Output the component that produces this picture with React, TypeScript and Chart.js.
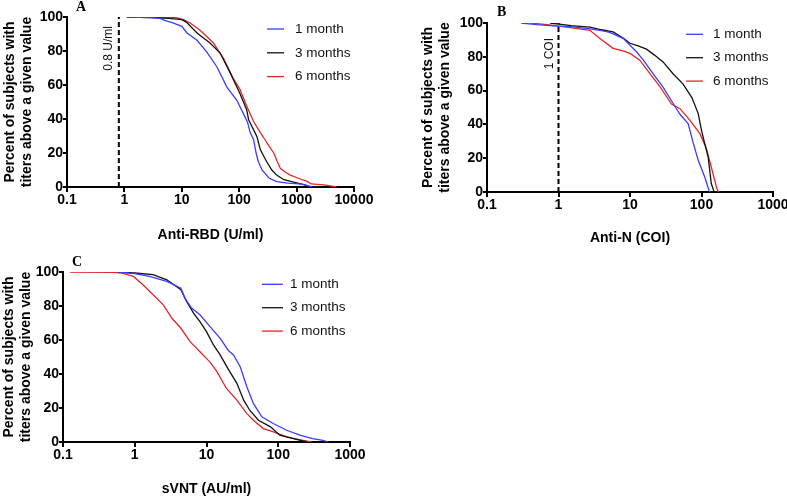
import React, { useEffect, useRef } from "react";
import { Chart, registerables } from "chart.js";

Chart.register(...registerables);

const SANS = '"Liberation Sans", Arial, Helvetica, sans-serif';
const SERIF = '"Liberation Serif", "Times New Roman", serif';

// ---------- shared ----------
const SERIES_LABELS = ["1 month", "3 months", "6 months"];
const SERIES_COLORS = ["#3c3cff", "#111111", "#e3262a"];
const Y_TITLE = ["Percent of subjects with", "titers above a given value"];
const Y_MIN = 0;
const Y_MAX = 100;
const Y_STEP = 20;

// ---------- panel A : Anti-RBD ----------
const A_X_TICKS = [0.1, 1, 10, 100, 1000, 10000];
const A_X_TICK_LABELS = ["0.1", "1", "10", "100", "1000", "10000"];
const A_X_TITLE = "Anti-RBD (U/ml)";
const A_CUTOFF = 0.8;
const A_CUTOFF_LABEL = "0.8 U/ml";
const A_1M = [
  [1.1, 100], [2.8, 99.6], [4.2, 99.2], [5, 98], [7, 96.5], [10, 94.5], [12.3, 90.6],
  [18.4, 86.3], [27.3, 79.4], [41, 70.6], [61, 58.8], [91, 51], [119, 43], [140, 38],
  [155, 32], [178, 28], [197, 20], [215, 15], [250, 10], [330, 5.3], [450, 3.2],
  [700, 2.3], [1100, 1.8], [1400, 1.2], [1900, 0],
];
const A_3M = [
  [1.1, 100], [3, 99.6], [6, 99.2], [10, 98.4], [12, 97], [18.4, 90.6], [31, 84.7],
  [46.6, 78.8], [70, 67], [103, 55], [135, 45.5], [146, 39.6], [170, 35], [203, 29.8],
  [233, 22], [260, 19], [300, 15], [370, 10], [450, 7], [600, 4.3], [890, 2.8],
  [1400, 1.3], [1600, 0],
];
const A_6M = [
  [1.1, 100], [3, 99.8], [8, 99.6], [10.7, 98.4], [14, 96.5], [21, 92], [35.6, 84.7],
  [54.4, 75.1], [80, 63.4], [103, 57.5], [135, 47.6], [178, 38.5], [233, 32],
  [282, 27.8], [330, 24], [400, 20], [460, 15], [520, 11], [620, 9], [780, 7],
  [1100, 5], [1530, 3.3], [1800, 1.8], [3000, 1.2], [5000, 0],
];

// ---------- panel B : Anti-N ----------
const B_X_TICKS = [0.1, 1, 10, 100, 1000];
const B_X_TICK_LABELS = ["0.1", "1", "10", "100", "1000"];
const B_X_TITLE = "Anti-N (COI)";
const B_CUTOFF = 1;
const B_CUTOFF_LABEL = "1 COI";
const B_1M = [
  [0.3, 100], [0.5, 99], [0.94, 98.2], [1.5, 97.8], [2.75, 96.5], [4, 95.5], [5.2, 94.5],
  [8.1, 90.8], [12.3, 83], [15.4, 78], [21, 70], [29, 62], [38, 54], [50, 46],
  [65, 40.5], [77, 28.6], [90, 18.8], [111, 8.9], [127, 1], [131, 0],
];
const B_3M = [
  [0.76, 100], [1.5, 98.5], [2.75, 97.6], [4, 96], [5.8, 94.7], [8.1, 91], [10, 88],
  [13, 86.5], [17, 84.5], [22, 81], [29, 77], [40, 70], [55, 64], [73, 56], [90, 46.4],
  [100, 36.5], [111, 28.6], [124, 20.7], [137, 5], [150, 0],
];
const B_6M = [
  [0.4, 100], [0.7, 99], [1.3, 97.6], [2.75, 95.7], [3.8, 90.8], [5.8, 85], [8, 83.5],
  [10, 82], [13.7, 78], [19, 70], [26.5, 62], [38, 52], [50, 49.3], [69, 42.4],
  [95, 34.5], [117, 25.7], [137, 14.8], [164, 2], [173, 0],
];

// ---------- panel C : sVNT ----------
const C_X_TICKS = [0.1, 1, 10, 100, 1000];
const C_X_TICK_LABELS = ["0.1", "1", "10", "100", "1000"];
const C_X_TITLE = "sVNT (AU/ml)";
const C_1M = [
  [0.6, 100], [1, 99], [1.6, 97.4], [2.8, 94.5], [4.4, 90.5], [5, 84.6], [6.2, 78.8],
  [8.1, 74.8], [11.2, 67.9], [15.5, 61], [17.2, 58.1], [20, 54], [23.8, 51.2],
  [29.5, 44.3], [36.5, 32.5], [45, 22.7], [59, 14.8], [85, 10.9], [131, 6.9],
  [200, 4], [300, 2], [420, 1], [500, 0],
];
const C_3M = [
  [0.59, 100], [1, 99.4], [1.8, 98.4], [2.8, 95.4], [4.4, 89.6], [5.3, 82.6],
  [6.6, 75.8], [8.1, 70.8], [10, 64.9], [12.5, 57.1], [15.5, 51.2], [20, 43],
  [26.5, 34.5], [33, 24.6], [40, 18.7], [53, 12.8], [78, 8.9], [105, 4], [162, 2],
  [250, 0],
];
const C_6M = [
  [0.125, 100], [0.5, 99.8], [0.66, 99.4], [0.96, 97.4], [1.3, 92.5], [1.8, 86.6],
  [2.5, 80.7], [3.3, 72.8], [4.4, 66.9], [5.9, 59], [8.1, 53.1], [11.2, 47],
  [13.9, 41.5], [19, 31.5], [26.5, 24.6], [36.5, 16.7], [45, 12.8], [62, 7.9],
  [86, 5.9], [131, 3], [220, 1], [290, 0],
];

type Pts = number[][];
interface PanelCfg {
  letter: string;
  box: { left: number; top: number; width: number; height: number };
  pad: { top: number; right: number; left: number; bottom: number };
  yAxisW: number;
  xAxisH: number;
  xTitlePad: number;
  yTitlePad: number;
  xTicks: number[];
  xTickLabels: string[];
  xTitle: string;
  series: Pts[];
  cutoff?: number;
  cutoffLabel?: string;
  cutoffLabelDx?: number;
  cutoffLabelDy?: number;
  legend: { x1: number; x2: number; tx: number; y0: number; dy: number };
  letterPos: { x: number; y: number };
}

const PANELS: PanelCfg[] = [
  {
    letter: "A",
    box: { left: 0, top: 0, width: 400, height: 250 },
    pad: { top: 17, right: 46, left: 0, bottom: 0 },
    yAxisW: 67,
    xAxisH: 63,
    xTitlePad: 6.5,
    yTitlePad: 1.5,
    xTicks: A_X_TICKS,
    xTickLabels: A_X_TICK_LABELS,
    xTitle: A_X_TITLE,
    series: [A_1M, A_3M, A_6M],
    cutoff: A_CUTOFF,
    cutoffLabel: A_CUTOFF_LABEL,
    cutoffLabelDx: -10,
    cutoffLabelDy: 9,
    legend: { x1: 267, x2: 284, tx: 295, y0: 29, dy: 23.8 },
    letterPos: { x: 76, y: 10.5 },
  },
  {
    letter: "B",
    box: { left: 400, top: 0, width: 387, height: 250 },
    pad: { top: 23, right: 14, left: 0, bottom: 0 },
    yAxisW: 87,
    xAxisH: 58,
    xTitlePad: 3.6,
    yTitlePad: 20,
    xTicks: B_X_TICKS,
    xTickLabels: B_X_TICK_LABELS,
    xTitle: B_X_TITLE,
    series: [B_1M, B_3M, B_6M],
    cutoff: B_CUTOFF,
    cutoffLabel: B_CUTOFF_LABEL,
    cutoffLabelDx: -8.5,
    cutoffLabelDy: 15,
    legend: { x1: 286, x2: 303, tx: 313, y0: 34.3, dy: 23.4 },
    letterPos: { x: 97, y: 16 },
  },
  {
    letter: "C",
    box: { left: 0, top: 250, width: 400, height: 246 },
    pad: { top: 22, right: 50, left: 0, bottom: 0 },
    yAxisW: 63,
    xAxisH: 54,
    xTitlePad: -1.4,
    yTitlePad: 0.6,
    xTicks: C_X_TICKS,
    xTickLabels: C_X_TICK_LABELS,
    xTitle: C_X_TITLE,
    series: [C_1M, C_3M, C_6M],
    legend: { x1: 262, x2: 283, tx: 290, y0: 34.3, dy: 23.4 },
    letterPos: { x: 72, y: 16 },
  },
];

function Panel({ cfg }: { cfg: PanelCfg }) {
  const ref = useRef<HTMLCanvasElement | null>(null);

  useEffect(() => {
    const canvas = ref.current;
    if (!canvas) return;

    const datasets: any[] = cfg.series.map((pts, i) => ({
      label: SERIES_LABELS[i],
      data: pts.map(([x, y]) => ({ x, y })),
      borderColor: SERIES_COLORS[i],
      backgroundColor: SERIES_COLORS[i],
      borderWidth: 1.3,
      pointRadius: 0,
      tension: 0,
      fill: false,
    }));
    if (cfg.cutoff !== undefined) {
      datasets.push({
        label: "__cutoff",
        data: [
          { x: cfg.cutoff, y: Y_MIN },
          { x: cfg.cutoff, y: Y_MAX },
        ],
        borderColor: "#000",
        borderWidth: 2,
        borderDash: [5, 3],
        pointRadius: 0,
        fill: false,
      });
    }

    const tickFont = { family: SANS, size: 14, weight: "bold" as const };

    const overlay = {
      id: "overlay-" + cfg.letter,
      afterDraw(chart: any) {
        const ctx = chart.ctx;
        const area = chart.chartArea;
        ctx.save();
        // legend
        ctx.font = `13.5px ${SANS}`;
        ctx.textBaseline = "middle";
        ctx.textAlign = "left";
        SERIES_LABELS.forEach((lab, i) => {
          const y = cfg.legend.y0 + i * cfg.legend.dy;
          ctx.strokeStyle = SERIES_COLORS[i];
          ctx.lineWidth = 1.3;
          ctx.setLineDash([]);
          ctx.beginPath();
          ctx.moveTo(cfg.legend.x1, y);
          ctx.lineTo(cfg.legend.x2, y);
          ctx.stroke();
          ctx.fillStyle = "#111";
          ctx.fillText(lab, cfg.legend.tx, y);
        });
        // panel letter
        ctx.font = `bold 14px ${SERIF}`;
        ctx.textBaseline = "alphabetic";
        ctx.fillStyle = "#000";
        ctx.fillText(cfg.letter, cfg.letterPos.x, cfg.letterPos.y);
        // cutoff label
        if (cfg.cutoff !== undefined && cfg.cutoffLabel) {
          const px = chart.scales.x.getPixelForValue(cfg.cutoff);
          ctx.translate(px + (cfg.cutoffLabelDx || 0), area.top + (cfg.cutoffLabelDy || 0));
          ctx.rotate(-Math.PI / 2);
          ctx.font = `12px ${SANS}`;
          ctx.textAlign = "right";
          ctx.textBaseline = "middle";
          ctx.fillStyle = "#111";
          ctx.fillText(cfg.cutoffLabel, 0, 0);
        }
        ctx.restore();
      },
    };

    const chart = new Chart(canvas, {
      type: "line",
      data: { datasets },
      options: {
        responsive: false,
        animation: false,
        events: [],
        layout: { padding: cfg.pad },
        plugins: {
          legend: { display: false },
          tooltip: { enabled: false },
        },
        scales: {
          x: {
            type: "logarithmic",
            min: cfg.xTicks[0],
            max: cfg.xTicks[cfg.xTicks.length - 1],
            afterBuildTicks: (s: any) => {
              s.ticks = cfg.xTicks.map((v) => ({ value: v }));
            },
            afterFit: (s: any) => {
              s.height = cfg.xAxisH;
              s.paddingLeft = 0;
              s.paddingRight = 0;
            },
            ticks: {
              autoSkip: false,
              maxRotation: 0,
              padding: 0,
              color: "#000",
              font: tickFont,
              callback: (_v: any, i: number) => cfg.xTickLabels[i],
            },
            grid: {
              drawOnChartArea: false,
              drawTicks: true,
              tickLength: 5,
              color: "#000",
              lineWidth: 2,
            },
            border: { display: true, color: "#000", width: 2 },
            title: {
              display: true,
              text: cfg.xTitle,
              color: "#000",
              font: tickFont,
              padding: { top: 0, bottom: cfg.xTitlePad },
            },
          },
          y: {
            type: "linear",
            min: Y_MIN,
            max: Y_MAX,
            afterFit: (s: any) => {
              s.width = cfg.yAxisW;
              s.paddingTop = 0;
              s.paddingBottom = 0;
            },
            ticks: {
              stepSize: Y_STEP,
              padding: 0,
              color: "#000",
              font: tickFont,
            },
            grid: {
              drawOnChartArea: false,
              drawTicks: true,
              tickLength: 4,
              color: "#000",
              lineWidth: 2,
            },
            border: { display: true, color: "#000", width: 2 },
            title: {
              display: true,
              text: Y_TITLE,
              color: "#000",
              font: tickFont,
              padding: { top: cfg.yTitlePad, bottom: 0 },
            },
          },
        },
      } as any,
      plugins: [overlay],
    });

    return () => chart.destroy();
  }, [cfg]);

  return (
    <canvas
      ref={ref}
      width={cfg.box.width}
      height={cfg.box.height}
      style={{
        position: "absolute",
        left: cfg.box.left,
        top: cfg.box.top,
        width: cfg.box.width,
        height: cfg.box.height,
      }}
    />
  );
}

export default function App() {
  return (
    <div
      style={{
        position: "absolute",
        left: 0,
        top: 0,
        width: 787,
        height: 496,
        background: "#fff",
        overflow: "hidden",
      }}
    >
      {PANELS.map((p) => (
        <Panel key={p.letter} cfg={p} />
      ))}
    </div>
  );
}
